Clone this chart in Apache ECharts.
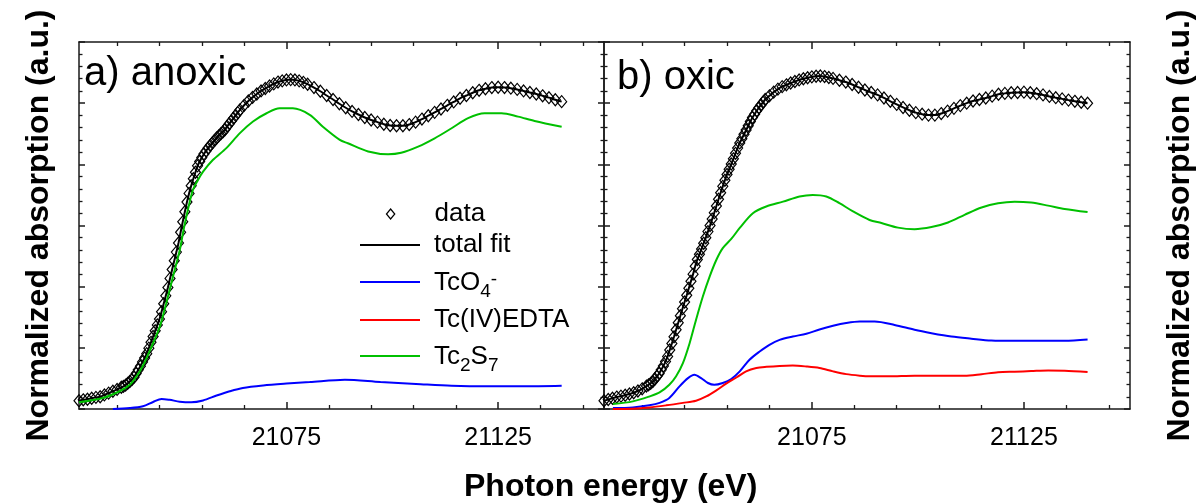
<!DOCTYPE html>
<html>
<head>
<meta charset="utf-8">
<title>Tc K-edge XANES fits</title>
<script src="https://cdn.jsdelivr.net/npm/echarts@6.0.0/dist/echarts.min.js"></script>
<style>
  html, body { margin: 0; padding: 0; background: #fff; }
  #chart { width: 1202px; height: 504px; }
</style>
</head>
<body>
<div id="chart"></div>
<script>
// photon energies of the measured points (eV)
var energy = [21026, 21027, 21028, 21029, 21030, 21031, 21032, 21033, 21034, 21035, 21036,
  21036.5, 21037, 21037.5, 21038, 21038.5, 21039, 21039.5, 21040,
  21040.5, 21041, 21041.5, 21042, 21042.5, 21043, 21043.5, 21044,
  21044.5, 21045, 21045.5, 21046, 21046.5, 21047, 21047.5, 21048,
  21048.5, 21049, 21049.5, 21050, 21050.5, 21051, 21051.5, 21052,
  21052.5, 21053, 21053.5, 21054, 21054.5, 21055, 21055.5, 21056,
  21056.5, 21057, 21057.5, 21058, 21058.5, 21059, 21059.5, 21060,
  21060.5, 21061, 21061.5, 21062, 21062.5, 21063, 21063.5, 21064,
  21065, 21066, 21067, 21068, 21069, 21070, 21071, 21072, 21073, 21074, 21075, 21076, 21077, 21078, 21079, 21080,
  21081.5, 21083, 21084.5, 21086, 21087.5, 21089, 21090.5, 21092, 21093.5, 21095,
  21096.5, 21098, 21099.5, 21101, 21102.5, 21104, 21105.5, 21107, 21108.5, 21110,
  21111.5, 21113, 21114.5, 21116, 21117.5, 21119, 21120.5, 21122, 21123.5, 21125,
  21126.5, 21128, 21129.5, 21131, 21132.5, 21134, 21135.5, 21137, 21138.5, 21140];

// measured spectra (normalized absorption)
var anoxicData = [0.027, 0.030, 0.032, 0.035, 0.038, 0.040, 0.046, 0.052, 0.058, 0.064, 0.071,
  0.074, 0.078, 0.084, 0.090, 0.096, 0.104, 0.116, 0.128,
  0.140, 0.154, 0.167, 0.181, 0.199, 0.218, 0.237, 0.256,
  0.275, 0.294, 0.318, 0.344, 0.370, 0.397, 0.427, 0.456,
  0.485, 0.513, 0.543, 0.578, 0.612, 0.645, 0.677, 0.705,
  0.730, 0.753, 0.774, 0.795, 0.809, 0.822, 0.834, 0.844,
  0.853, 0.862, 0.870, 0.878, 0.886, 0.893, 0.900, 0.906,
  0.914, 0.924, 0.933, 0.942, 0.951, 0.960, 0.969, 0.978,
  0.993, 1.007, 1.019, 1.030, 1.040, 1.048, 1.056, 1.063, 1.069, 1.073, 1.076, 1.077, 1.076, 1.073, 1.068, 1.062,
  1.051, 1.039, 1.025, 1.012, 0.998, 0.985, 0.973, 0.963, 0.953, 0.945,
  0.938, 0.931, 0.927, 0.926, 0.926, 0.930, 0.938, 0.948, 0.959, 0.970,
  0.981, 0.993, 1.004, 1.016, 1.025, 1.034, 1.042, 1.047, 1.051, 1.052,
  1.051, 1.049, 1.045, 1.040, 1.035, 1.030, 1.024, 1.018, 1.011, 1.005];

var oxicData = [0.027, 0.031, 0.035, 0.039, 0.042, 0.045, 0.049, 0.053, 0.059, 0.066, 0.075,
  0.079, 0.084, 0.090, 0.098, 0.107, 0.116, 0.128, 0.141,
  0.155, 0.172, 0.193, 0.214, 0.236, 0.259, 0.282, 0.305,
  0.328, 0.350, 0.372, 0.395, 0.418, 0.441, 0.467, 0.489,
  0.506, 0.523, 0.542, 0.560, 0.580, 0.600, 0.621, 0.642,
  0.664, 0.686, 0.707, 0.728, 0.748, 0.767, 0.784, 0.801,
  0.818, 0.836, 0.853, 0.870, 0.884, 0.898, 0.912, 0.926,
  0.940, 0.953, 0.964, 0.975, 0.985, 0.994, 1.003, 1.012,
  1.024, 1.036, 1.046, 1.054, 1.060, 1.066, 1.071, 1.076, 1.080, 1.083, 1.086, 1.088, 1.089, 1.087, 1.084, 1.081,
  1.075, 1.069, 1.061, 1.052, 1.043, 1.035, 1.027, 1.017, 1.006, 0.996,
  0.986, 0.977, 0.969, 0.964, 0.961, 0.961, 0.966, 0.974, 0.983, 0.992,
  1.000, 1.007, 1.012, 1.017, 1.023, 1.029, 1.032, 1.034, 1.035, 1.036,
  1.034, 1.031, 1.027, 1.022, 1.018, 1.014, 1.010, 1.006, 1.003, 1.000];

// fit components [energy, weighted absorption]
var tco4Anoxic = [[21034, 0], [21038, 0.003], [21041.1, 0.009], [21043.5, 0.023], [21045.5, 0.033],
  [21047.4, 0.030], [21049.8, 0.024], [21052.5, 0.022], [21055.3, 0.028], [21058.5, 0.044],
  [21061.6, 0.058], [21064.7, 0.069], [21069.5, 0.077], [21075, 0.083], [21080.5, 0.088],
  [21088.8, 0.096], [21097.2, 0.088], [21105.6, 0.082], [21114, 0.076], [21122.5, 0.074],
  [21130.8, 0.074], [21140, 0.076]];
var edtaAnoxic = [];
var tc2s7Anoxic = [[21026, 0.022], [21031.6, 0.036], [21035.6, 0.058], [21038, 0.079], [21039.6, 0.107],
  [21041, 0.139], [21042.7, 0.190], [21045.1, 0.270], [21046.6, 0.346], [21048.2, 0.433],
  [21049.8, 0.520], [21050.7, 0.586], [21051.7, 0.651], [21052.9, 0.716], [21054.1, 0.749],
  [21055.3, 0.776], [21057.6, 0.814], [21060.8, 0.853], [21064, 0.902], [21067.1, 0.940],
  [21070.3, 0.967], [21073.4, 0.983], [21076.5, 0.983], [21080.5, 0.962], [21083.6, 0.923],
  [21087.6, 0.880], [21089.5, 0.869], [21094.3, 0.842], [21099, 0.833], [21102.1, 0.838],
  [21106.1, 0.858], [21110, 0.885], [21114, 0.918], [21117.9, 0.951], [21121.8, 0.967],
  [21125.8, 0.967], [21129.7, 0.956], [21133.6, 0.942], [21140, 0.923]];

var tco4Oxic = [[21028.1, 0.003], [21032.8, 0.005], [21036.7, 0.012], [21039.1, 0.020], [21041.4, 0.036],
  [21043.8, 0.074], [21045.8, 0.101], [21047.3, 0.112], [21048.9, 0.101], [21050.5, 0.085],
  [21052, 0.079], [21054, 0.085], [21056, 0.098], [21058, 0.123], [21060.3, 0.161],
  [21062.7, 0.188], [21065, 0.210], [21067.4, 0.226], [21070.5, 0.237], [21073.7, 0.246],
  [21076.8, 0.260], [21080, 0.272], [21083.1, 0.281], [21086.3, 0.286], [21089.8, 0.286],
  [21094.5, 0.275], [21099.2, 0.259], [21103.2, 0.248], [21107.9, 0.237], [21112.6, 0.230],
  [21117.3, 0.224], [21122.8, 0.223], [21130.7, 0.223], [21134.6, 0.223], [21140, 0.227]];
var edtaOxic = [[21028.1, 0], [21032.8, 0.001], [21036.7, 0.005], [21040.7, 0.012], [21044.6, 0.020],
  [21047.7, 0.027], [21050.1, 0.041], [21052.5, 0.061], [21054.8, 0.083], [21057.2, 0.103],
  [21059.5, 0.123], [21061.9, 0.134], [21064.3, 0.138], [21067.4, 0.141], [21070.5, 0.142],
  [21073.7, 0.139], [21076.8, 0.134], [21080, 0.123], [21083.1, 0.114], [21086.3, 0.109],
  [21088.6, 0.107], [21093, 0.107], [21099.2, 0.109], [21105.5, 0.109], [21111, 0.109],
  [21115, 0.114], [21118.9, 0.120], [21122.8, 0.122], [21126.7, 0.124], [21130.7, 0.126],
  [21134.6, 0.125], [21140, 0.121]];
var tc2s7Oxic = [[21028.1, 0.016], [21032.8, 0.025], [21036.7, 0.041], [21039.1, 0.054], [21041.4, 0.079],
  [21043, 0.107], [21044.6, 0.150], [21046.2, 0.216], [21047.7, 0.292], [21049.3, 0.368],
  [21050.9, 0.433], [21052.5, 0.488], [21054, 0.526], [21056, 0.556], [21058, 0.592],
  [21061.1, 0.640], [21064.25, 0.662], [21068.2, 0.678], [21072.1, 0.695], [21075.2, 0.700],
  [21078.4, 0.695], [21081.5, 0.673], [21084.7, 0.646], [21088.6, 0.618], [21091.4, 0.608],
  [21095.3, 0.593], [21099.2, 0.588], [21103.2, 0.595], [21107.1, 0.610], [21111, 0.635],
  [21115, 0.659], [21118.9, 0.673], [21122.8, 0.678], [21126.7, 0.675], [21130.7, 0.665],
  [21134.6, 0.654], [21140, 0.644]];

// axis ticks
var xLabelValues = [21075, 21125];
var xMajorTicks = [21075, 21125];
var xMinorTicks = [21035, 21045, 21055, 21065, 21085, 21095, 21105, 21115, 21135, 21145];

var FONT = '"Liberation Sans", Arial, sans-serif';
var INK = '#1a1a1a';
var GREEN = '#00c000', BLUE = '#0000ff', RED = '#ff0000';

function pairs(xs, ys) {
  return xs.map(function (x, i) { return [x, ys[i]]; });
}

function xAxesFor(grid) {
  var base = {
    gridIndex: grid, type: 'value', min: 21026, max: 21150,
    splitLine: { show: false },
    axisLabel: { show: false }
  };
  var major = { show: true, inside: true, length: 7, customValues: xMajorTicks, lineStyle: { color: INK, width: 1.5 } };
  var minor = { show: true, inside: true, length: 4, customValues: xMinorTicks, lineStyle: { color: INK, width: 1.3 } };
  return [
    Object.assign({}, base, {
      position: 'bottom',
      axisLine: { show: true, onZero: false, lineStyle: { color: INK, width: 1.5 } },
      axisTick: major,
      axisLabel: {
        show: true, customValues: xLabelValues, fontSize: 25, color: '#000', fontFamily: FONT, margin: 17,
        formatter: function (v) { return String(v); }
      }
    }),
    Object.assign({}, base, { position: 'bottom', axisLine: { show: false, onZero: false }, axisTick: minor }),
    Object.assign({}, base, {
      position: 'top',
      axisLine: { show: true, onZero: false, lineStyle: { color: INK, width: 1.5 } },
      axisTick: major
    }),
    Object.assign({}, base, { position: 'top', axisLine: { show: false, onZero: false }, axisTick: minor })
  ];
}

function yAxisFor(grid, pos, name, gap) {
  return {
    gridIndex: grid, type: 'value', position: pos, min: 0, max: 1.2, interval: 0.2,
    axisLine: { show: true, onZero: false, lineStyle: { color: INK, width: 1.5 } },
    axisTick: { show: true, inside: true, length: 6, lineStyle: { color: INK, width: 1.5 } },
    minorTick: { show: true, splitNumber: 5, length: 3.5, lineStyle: { color: INK, width: 1.3 } },
    axisLabel: { show: false },
    splitLine: { show: false },
    name: name, nameLocation: 'middle', nameRotate: 90, nameGap: gap,
    nameTextStyle: { fontSize: 32, fontWeight: 'bold', color: '#000', fontFamily: FONT }
  };
}

function panelSeries(xIdx, yIdx, measured, tco4, edta, tc2s7) {
  return [
    {
      // measured points: hollow diamonds only, the connecting line is hidden
      name: 'data', type: 'line', xAxisIndex: xIdx, yAxisIndex: yIdx,
      data: measured, symbol: 'diamond', symbolSize: [10, 12], showSymbol: true, showAllSymbol: true, z: 3,
      lineStyle: { width: 0, opacity: 0 },
      itemStyle: { color: 'rgba(0,0,0,0)', borderColor: '#000', borderWidth: 1.2 }
    },
    {
      name: 'total fit', type: 'line', xAxisIndex: xIdx, yAxisIndex: yIdx,
      data: measured, symbol: 'none', smooth: 0.2, z: 2,
      lineStyle: { color: '#000', width: 2 }, itemStyle: { color: '#000' }
    },
    {
      name: 'TcO4', type: 'line', xAxisIndex: xIdx, yAxisIndex: yIdx,
      data: tco4, symbol: 'none', smooth: 0.3, z: 4,
      lineStyle: { color: BLUE, width: 2 }, itemStyle: { color: BLUE }
    },
    {
      name: 'Tc(IV)EDTA', type: 'line', xAxisIndex: xIdx, yAxisIndex: yIdx,
      data: edta, symbol: 'none', smooth: 0.3, z: 4,
      lineStyle: { color: RED, width: 2 }, itemStyle: { color: RED }
    },
    {
      name: 'Tc2S7', type: 'line', xAxisIndex: xIdx, yAxisIndex: yIdx,
      data: tc2s7, symbol: 'none', smooth: 0.3, z: 4,
      lineStyle: { color: GREEN, width: 2 }, itemStyle: { color: GREEN }
    }
  ];
}

// legend rows: name, centre of the sample line (px), text block height
var legendRows = [
  { name: 'data', c: 214, h: 28 },
  { name: 'total fit', c: 245, h: 28 },
  { name: 'TcO4', c: 282, h: 38 },
  { name: 'Tc(IV)EDTA', c: 320, h: 28 },
  { name: 'Tc2S7', c: 356, h: 38 }
];
var legendText = {
  'data': 'data',
  'total fit': 'total fit',
  'TcO4': '{m|TcO}{sub|4}{sup|-}',
  'Tc2S7': '{m|Tc}{sub|2}{m|S}{sub|7}',
  'Tc(IV)EDTA': 'Tc(IV)EDTA'
};
var LINE_ICON = 'path://M0 0H60V2H0Z';
// diamond in the middle of a 6:1 box, so the icon keeps the full sample width
var DIAMOND_ICON = 'path://M0 6M72 6M36 0L41 6L36 12L31 6Z';
var richStyles = {
  m: { fontSize: 26, lineHeight: 38, verticalAlign: 'top', padding: [7, 0, 0, 0], color: '#000', fontFamily: FONT },
  sub: { fontSize: 19, lineHeight: 38, verticalAlign: 'bottom', color: '#000', fontFamily: FONT },
  sup: { fontSize: 19, lineHeight: 38, verticalAlign: 'top', padding: [7, 0, 0, 0], color: '#000', fontFamily: FONT }
};

var legends = legendRows.map(function (row) {
  var isData = row.name === 'data';
  return {
    data: [{ name: row.name, icon: isData ? DIAMOND_ICON : LINE_ICON }],
    left: 360, top: row.c - row.h / 2, padding: 0,
    orient: 'vertical', itemWidth: 60, itemHeight: 10, selectedMode: false, symbolKeepAspect: true,
    formatter: function (n) { return legendText[n]; },
    itemStyle: isData
      ? { color: 'rgba(0,0,0,0)', borderColor: '#000', borderWidth: 1.2 }
      : { borderWidth: 0 },
    textStyle: { fontSize: 26, lineHeight: row.h, color: '#000', fontFamily: FONT, padding: [0, 0, 0, 9], rich: richStyles }
  };
});

var chart = echarts.init(document.getElementById('chart'), null, { renderer: 'canvas' });
chart.setOption({
  backgroundColor: '#fff',
  animation: false,
  title: [
    { text: 'a) anoxic', left: 84, top: 54, padding: 0, textStyle: { fontSize: 40, fontWeight: 'normal', color: '#000', fontFamily: FONT } },
    { text: 'b) oxic', left: 617, top: 58, padding: 0, textStyle: { fontSize: 40, fontWeight: 'normal', color: '#000', fontFamily: FONT } },
    { text: 'Photon energy (eV)', left: 464, top: 471, padding: 0, textStyle: { fontSize: 32, fontWeight: 'bold', color: '#000', fontFamily: FONT } }
  ],
  legend: legends,
  grid: [
    { left: 79, top: 42, width: 525, height: 367 },
    { left: 604, top: 42, width: 526, height: 367 }
  ],
  xAxis: xAxesFor(0).concat(xAxesFor(1)),
  yAxis: [
    yAxisFor(0, 'left', 'Normalized absorption (a.u.)', 24),
    yAxisFor(0, 'right', '', 0),
    yAxisFor(1, 'left', '', 0),
    yAxisFor(1, 'right', 'Normalized absorption (a.u.)', 34)
  ],
  series: panelSeries(0, 0, pairs(energy, anoxicData), tco4Anoxic, edtaAnoxic, tc2s7Anoxic)
    .concat(panelSeries(4, 2, pairs(energy, oxicData), tco4Oxic, edtaOxic, tc2s7Oxic))
});
</script>
</body>
</html>
